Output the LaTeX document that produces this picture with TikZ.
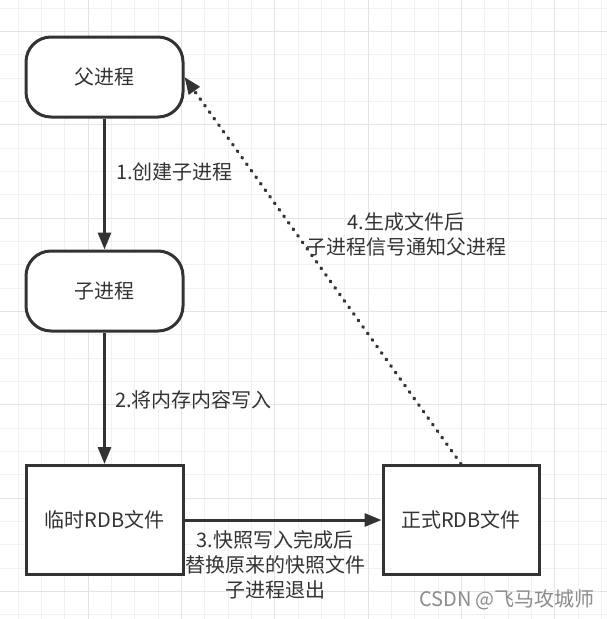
\documentclass[tikz,border=0pt]{standalone}
\usepackage{fontspec}
\setmainfont{Noto Sans CJK SC}
\usepackage{tikz}
\usetikzlibrary{arrows.meta}

\definecolor{inkgray}{HTML}{333333}
\definecolor{gridminor}{HTML}{F1F1F1}
\definecolor{gridmajor}{HTML}{E4E4E4}
\definecolor{wmarkgray}{HTML}{8C8C8C}

\tikzset{
  every node/.style={font=\fontsize{20pt}{25pt}\selectfont},
  procbox/.style={draw=inkgray, fill=white, line width=3pt, rounded corners=25pt, minimum width=157pt, minimum height=80pt, text=inkgray},
  filebox/.style={draw=inkgray, fill=white, line width=3pt, minimum width=157pt, minimum height=109pt, text=inkgray},
  flow/.style={draw=inkgray, line width=3pt, -{Triangle[length=17pt,width=13pt]}},
  notify/.style={flow, line width=3.4pt, line cap=round, dash pattern=on 0.8pt off 7.2pt},
  lbl/.style={text=inkgray, inner sep=0pt},
  wmark/.style={text=wmarkgray, inner sep=0pt},
}

\begin{document}
\begin{tikzpicture}[x=1pt,y=-1pt]
  \useasboundingbox (0,0) rectangle (607,619);
  \fill[white] (0,0) rectangle (607,619);

  % background grid
  \foreach \k in {0,...,25} {
    \pgfmathsetmacro\gx{18.33+23.333*\k}
    \draw[gridminor, line width=1pt] (\gx,0) -- (\gx,619);
  }
  \foreach \k in {0,...,26} {
    \pgfmathsetmacro\gy{8.33+23.333*\k}
    \draw[gridminor, line width=1pt] (0,\gy) -- (607,\gy);
  }
  \foreach \k in {3,7,...,23} {
    \pgfmathsetmacro\gx{18.33+23.333*\k}
    \draw[gridmajor, line width=1pt] (\gx,0) -- (\gx,619);
  }
  \foreach \k in {1,5,...,25} {
    \pgfmathsetmacro\gy{8.33+23.333*\k}
    \draw[gridmajor, line width=1pt] (0,\gy) -- (607,\gy);
  }

  \node [procbox] (parent) at (104.5,77) {父进程}; % parent process
  \node [procbox] (child) at (104.5,291) {子进程}; % child process

  \node [filebox] (tmpfile) at (104.5,520) {临时RDB文件}; % temp file
  \node [filebox, minimum width=156pt] (rdbfile) at (461,520) {正式RDB文件}; % final file

  \draw [flow] (parent) -- (child);
  \draw [flow] (child) -- (tmpfile);
  \draw [flow] (tmpfile) -- (rdbfile);
  \draw [notify] (rdbfile.north) -- (parent.east);

  \node [lbl, anchor=west] (step1) at (116,172) {1.创建子进程};
  \node [lbl, anchor=west] (step2) at (115,400) {2.将内存内容写入};
  \node [lbl, align=center] (step3) at (275,565) {3.快照写入完成后\\替换原来的快照文件\\子进程退出};
  \node [lbl, align=center] (step4) at (406,234) {4.生成文件后\\子进程信号通知父进程};

  \node [wmark] (credit) at (507,600) {CSDN @飞马攻城师};
\end{tikzpicture}
\end{document}
